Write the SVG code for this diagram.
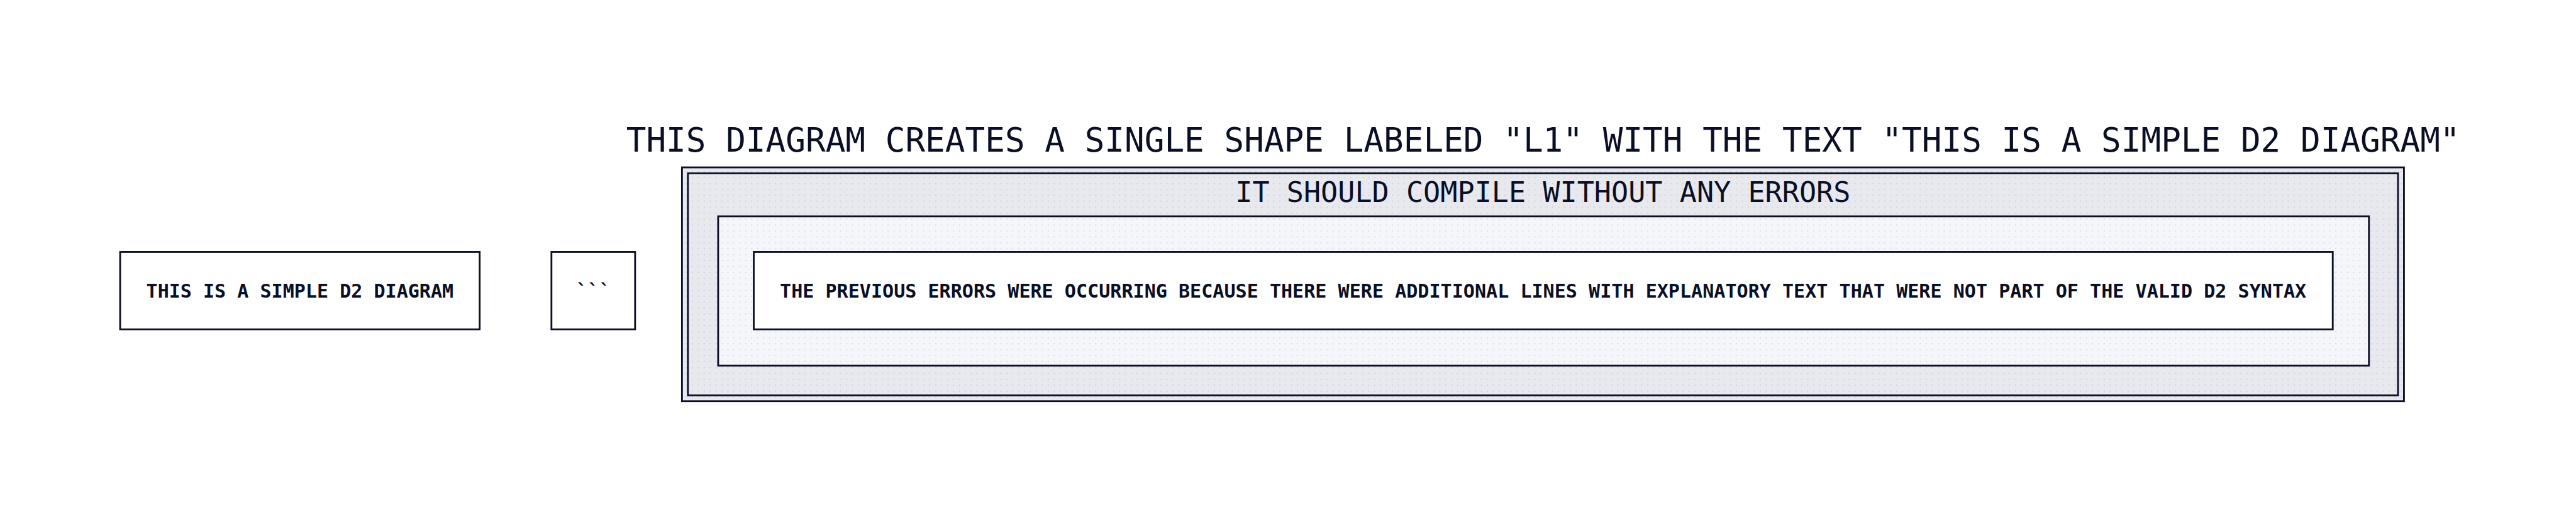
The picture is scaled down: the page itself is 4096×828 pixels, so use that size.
<svg xmlns="http://www.w3.org/2000/svg" width="4096" height="828" viewBox="0 0 4096 828">
<style>
.box{stroke:#0A0F25;stroke-width:3;}
.lbl{font-family:"DejaVu Sans Mono","Liberation Mono",monospace;fill:#0A0F25;text-anchor:middle;}
.node{font-size:32px;font-weight:bold;}
.title{font-size:56px;}
.clbl{font-size:48px;}
</style>
<defs>
<pattern id="dots" patternUnits="userSpaceOnUse" width="10" height="10">
<rect x="6" y="8" width="2" height="2" fill="#0A0F25" fill-opacity="0.1"/>
</pattern>
</defs>
<rect width="4096" height="828" fill="#FFFFFF"/>
<g transform="scale(0.94334)">
<g id="title">
<text class="lbl title" x="2601" y="255.5" textLength="3091" lengthAdjust="spacingAndGlyphs">THIS DIAGRAM CREATES A SINGLE SHAPE LABELED "L1" WITH THE TEXT "THIS IS A SIMPLE D2 DIAGRAM"</text>
</g>
<g id="L1">
<rect class="box" x="202.5" y="424.5" width="606" height="130.5" fill="#FFFFFF"/>
<text class="lbl node" x="505.5" y="501.5" textLength="518" lengthAdjust="spacingAndGlyphs">THIS IS A SIMPLE D2 DIAGRAM</text>
</g>
<g id="backticks">
<rect class="box" x="929.5" y="424.5" width="141" height="130.5" fill="#FFFFFF"/>
<text class="lbl node" x="1000" y="501.5">```</text>
</g>
<g id="compile">
<rect class="box" x="1149.5" y="282" width="2902.5" height="394" fill="#E7E9EE"/>
<rect x="1149.5" y="282" width="2902.5" height="394" fill="url(#dots)"/>
<rect class="box" x="1159.5" y="292" width="2882.5" height="374" fill="none"/>
<text class="lbl clbl" x="2600.7" y="340" textLength="1037" lengthAdjust="spacingAndGlyphs">IT SHOULD COMPILE WITHOUT ANY ERRORS</text>
</g>
<g id="compile.middle">
<rect class="box" x="1210.5" y="364.5" width="2782.5" height="251.5" fill="#F5F6F9"/>
<rect x="1210.5" y="364.5" width="2782.5" height="251.5" fill="url(#dots)"/>
</g>
<g id="compile.middle.reason">
<rect class="box" x="1270.5" y="424.5" width="2661.5" height="130.5" fill="#FFFFFF"/>
<text class="lbl node" x="2601" y="501.5" textLength="2573" lengthAdjust="spacingAndGlyphs">THE PREVIOUS ERRORS WERE OCCURRING BECAUSE THERE WERE ADDITIONAL LINES WITH EXPLANATORY TEXT THAT WERE NOT PART OF THE VALID D2 SYNTAX</text>
</g>
<g id="connectors"></g>
</g>
</svg>
